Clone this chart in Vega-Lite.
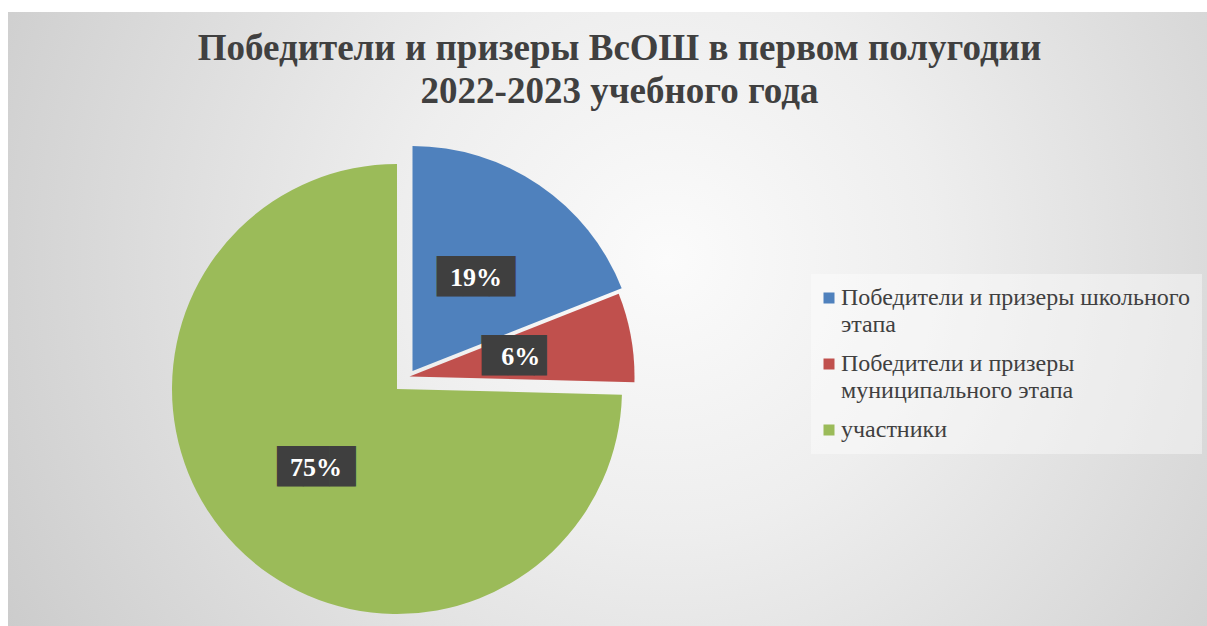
{
  "$schema": "https://vega.github.io/schema/vega-lite/v6.json",
  "width": 1199,
  "height": 614,
  "autosize": "none",
  "padding": {"left": 8, "top": 12, "right": 0, "bottom": 0},
  "background": "#ffffff",
  "view": {
    "stroke": null,
    "fill": {
      "gradient": "radial",
      "x1": 0.55, "y1": 0.45, "r1": 0,
      "x2": 0.55, "y2": 0.45, "r2": 0.75,
      "stops": [
        {"offset": 0, "color": "#fbfbfb"},
        {"offset": 0.3, "color": "#eeeeee"},
        {"offset": 1, "color": "#c2c2c2"}
      ]
    }
  },
  "title": {
    "text": ["Победители и призеры ВсОШ в первом полугодии", "2022-2023 учебного года"],
    "font": "Liberation Serif",
    "fontSize": 37,
    "fontWeight": "bold",
    "color": "#404040",
    "anchor": "middle",
    "frame": "group",
    "offset": -99,
    "lineHeight": 43,
    "dx": 12
  },
  "config": {
    "font": "Liberation Serif",
    "style": {
      "guide-label": {"lineHeight": 27, "font": "Liberation Serif"},
      "group-title": {"font": "Liberation Serif"}
    }
  },
  "data": {
    "values": [
      {"category": "Победители и призеры школьного этапа", "share": 0.19, "order": 1},
      {"category": "Победители и призеры муниципального этапа", "share": 0.064, "order": 2},
      {"category": "участники", "share": 0.746, "order": 3}
    ]
  },
  "encoding": {
    "theta": {"field": "share", "type": "quantitative", "stack": true},
    "order": {"field": "order", "type": "quantitative"}
  },
  "layer": [
    {
      "mark": {
        "type": "arc",
        "radius": 225,
        "xOffset": {"expr": "datum.order == 1 ? -195 : datum.order == 2 ? -198 : -210.5"},
        "yOffset": {"expr": "datum.order == 1 ? 52 : datum.order == 2 ? 57.5 : 70"}
      },
      "encoding": {
        "color": {
          "field": "category",
          "type": "nominal",
          "scale": {
            "domain": ["Победители и призеры школьного этапа", "Победители и призеры муниципального этапа", "участники"],
            "range": ["#4f81bd", "#c0504d", "#9bbb59"]
          },
          "legend": {
            "orient": "none",
            "legendX": 803,
            "legendY": 262,
            "title": null,
            "symbolType": "square",
            "symbolSize": 121,
            "symbolStrokeWidth": 0,
            "symbolOffset": -6,
            "labelFont": "Liberation Serif",
            "labelFontSize": 24,
            "labelColor": "#404040",
            "labelLimit": 0,
            "labelOffset": 0,
            "rowPadding": 15,
            "padding": 12,
            "fillColor": "rgba(255,255,255,0.4)",
            "labelExpr": "datum.label == 'Победители и призеры школьного этапа' ? ['Победители и призеры школьного', 'этапа'] : datum.label == 'Победители и призеры муниципального этапа' ? ['Победители и призеры', 'муниципального этапа'] : datum.label"
          }
        }
      }
    },
    {
      "mark": {
        "type": "text",
        "radius": 113,
        "font": "DejaVu Sans",
        "fontSize": 34,
        "color": "#3f3f3f",
        "align": "center",
        "baseline": "middle",
        "xOffset": {"expr": "datum.order == 1 ? -195 : datum.order == 2 ? -198 : -210.5"},
        "yOffset": {"expr": "datum.order == 1 ? 52 : datum.order == 2 ? 57.5 : 70"}
      },
      "encoding": {
        "text": {"condition": {"test": "datum.order == 2", "value": "██▌"}, "value": "███"}
      }
    },
    {
      "mark": {
        "type": "text",
        "radius": 113,
        "font": "Liberation Serif",
        "fontSize": 26,
        "fontWeight": "bold",
        "color": "#ffffff",
        "align": "center",
        "baseline": "middle",
        "xOffset": {"expr": "datum.order == 1 ? -195 : datum.order == 2 ? -198 : -210.5"},
        "yOffset": {"expr": "datum.order == 1 ? 52 : datum.order == 2 ? 57.5 : 70"}
      },
      "encoding": {
        "text": {"field": "share", "type": "quantitative", "format": ".0%"}
      }
    }
  ]
}
